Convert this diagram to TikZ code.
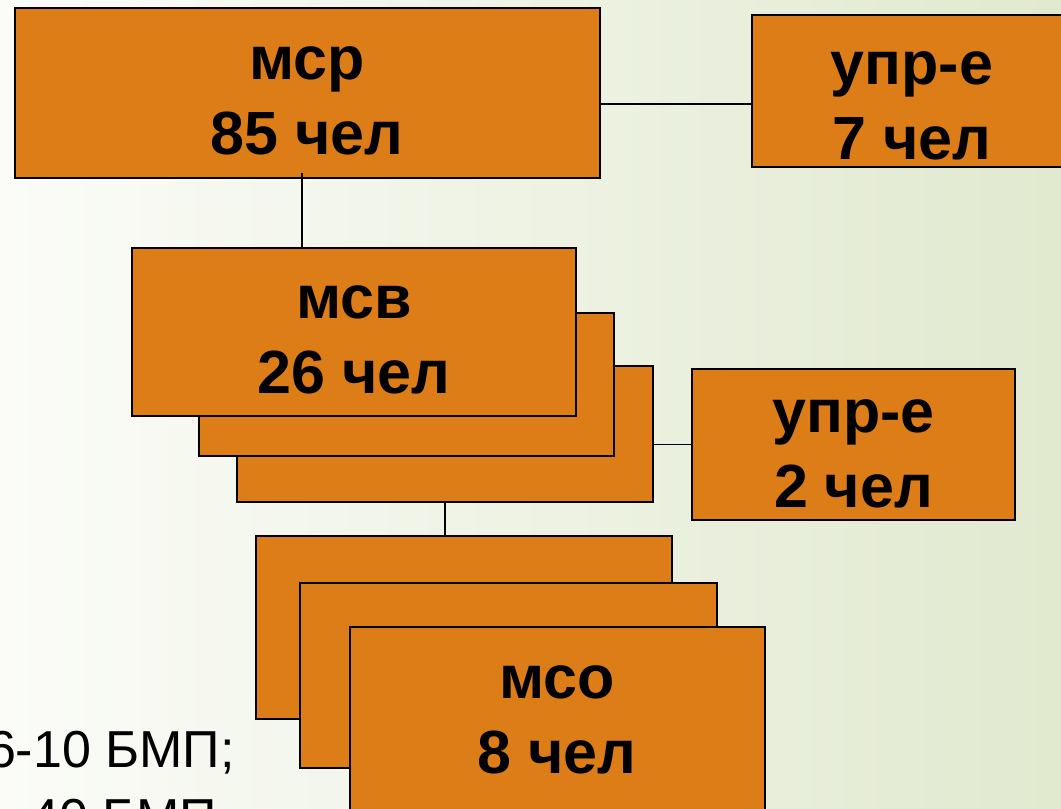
\documentclass[tikz,border=0pt]{standalone}
\usepackage{fontspec}
\setmainfont{Liberation Sans}
\usetikzlibrary{positioning}
\definecolor{boxorange}{RGB}{221,125,24}
\definecolor{bgleft}{RGB}{251,252,248}
\definecolor{bgright}{RGB}{225,233,207}
\tikzset{
    unit/.style={draw=black, line width=1.6pt, fill=boxorange, inner sep=0pt},
    lbl/.style={font=\fontsize{61}{75}\selectfont\bfseries, align=center, inner sep=0pt},
    note/.style={font=\fontsize{52}{68}\selectfont, inner sep=0pt},
    link/.style={line width=1.4pt, draw=black}
}

\begin{document}
\begin{tikzpicture}[x=1pt, y=-1pt]%[opacity=0.2]
                \useasboundingbox (0,0) rectangle (1061,809);
                \clip (0,0) rectangle (1061,809);
                \shade[left color=bgleft, right color=bgright] (0,0) rectangle (1061,809);
                % top level
                \node[unit, minimum width=585pt, minimum height=170pt] (msr) at (307.5,93) {};
                \node[unit, minimum width=320pt, minimum height=152pt] (upr1) at (912,91) {};
                \node[lbl] (msrT) at (307,100.5) {мср\\85 чел};
                \node[lbl] (upr1T) at (912,106) {упр-е\\7 чел};
                % platoons
                \node[unit, minimum width=416pt, minimum height=136pt] (msv3) at (445,434) {};
                \node[unit, minimum width=415pt, minimum height=143pt] (msv2) at (406.5,384.5) {};
                \node[unit, minimum width=444pt, minimum height=168pt] (msv1) at (354,332) {};
                \node[lbl] (msvT) at (354,339.5) {мсв\\26 чел};
                \node[unit, minimum width=323pt, minimum height=151pt] (upr2) at (853.5,444.5) {};
                \node[lbl] (upr2T) at (853.5,454) {упр-е\\2 чел};
                % squads
                \node[unit, minimum width=416pt, minimum height=183pt] (mso1) at (464,627.5) {};
                \node[unit, minimum width=417pt, minimum height=185pt] (mso2) at (508.5,675.5) {};
                \node[unit, minimum width=415pt, minimum height=183pt] (mso3) at (557.5,718.5) {};
                \node[lbl] (msoT) at (557,719.5) {мсо\\8 чел};
                % notes
                \node[note, anchor=base east] (n1) at (235,767) {6-10 БМП;};
                \node[note, anchor=base west] (n2) at (30,835) {40 БМП};
                \draw [link]
                    ([yshift=-11pt]msr.east) -- ([yshift=-11pt]msr.east -| upr1.west)
                    ([shift={(-5.5,-6)}]msr.south) -- ([xshift=-5.5pt]msr.south |- msv1.north)
                    (msv3.east |- upr2.west) -- (upr2.west)
                    (msv3.south) -- (msv3.south |- mso1.north);
            \end{tikzpicture}
\end{document}
